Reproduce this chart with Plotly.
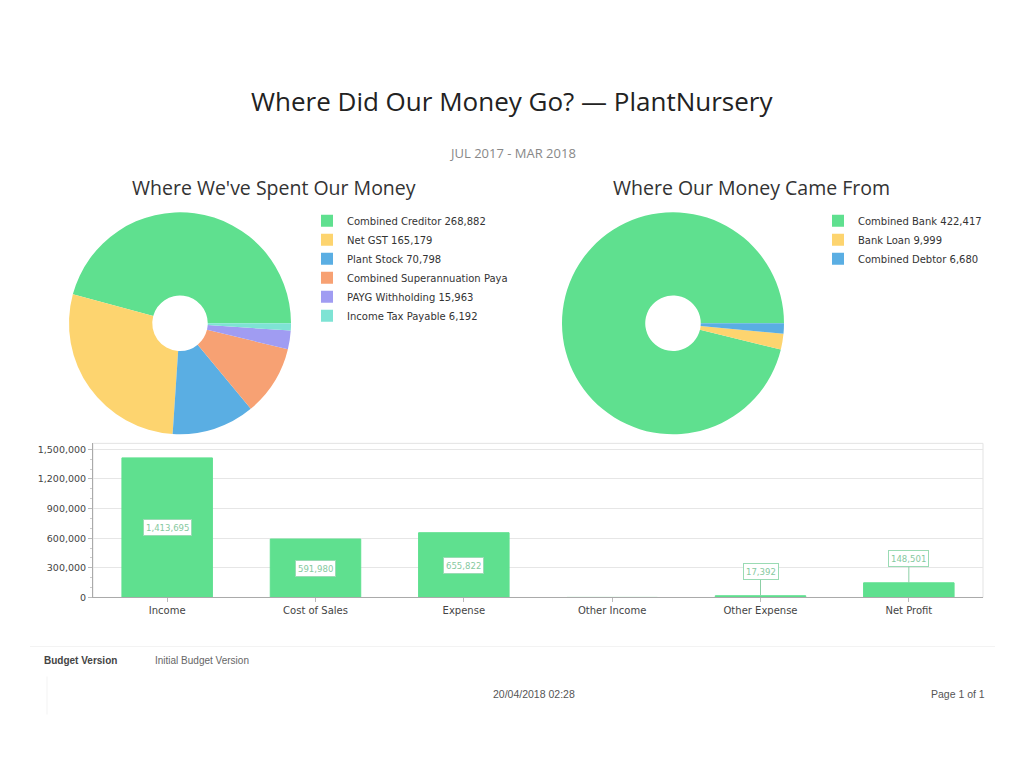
import plotly.graph_objects as go

# ---- data ----
spent_labels = ["Combined Creditor 268,882", "Net GST 165,179", "Plant Stock 70,798",
                "Combined Superannuation Paya", "PAYG Withholding 15,963", "Income Tax Payable 6,192"]
spent_values = [268882, 165179, 70798, 60000, 15963, 6192]
spent_colors = ["#5FE08F", "#FDD46F", "#5AAEE3", "#F7A173", "#A09CF2", "#7EE3D4"]

came_labels = ["Combined Bank 422,417", "Bank Loan 9,999", "Combined Debtor 6,680"]
came_values = [422417, 9999, 6680]
came_colors = ["#5FE08F", "#FDD46F", "#5AAEE3"]

bar_categories = ["Income", "Cost of Sales", "Expense", "Other Income", "Other Expense", "Net Profit"]
bar_values = [1413695, 591980, 655822, 0, 17392, 148501]
bar_label_inside = [True, True, True, None, False, False]
y_ticks = [0, 300000, 600000, 900000, 1200000, 1500000]
y_ticktext = ["0", "300,000", "600,000", "900,000", "1,200,000", "1,500,000"]

GREEN = "#5FE08F"
W, H = 1024, 770
H_EFF = 764.4


def px_x(x):
    return x / W


def px_y(y):
    return 1 - y / H_EFF


def start_rotation(values):
    # first slice begins at 3 o'clock and the slices run counter-clockwise
    return 90 - 360 * values[0] / sum(values)


fig = go.Figure()

fig.add_trace(go.Pie(
    labels=spent_labels, values=spent_values, hole=0.25, sort=False,
    direction="counterclockwise", rotation=start_rotation(spent_values),
    marker=dict(colors=spent_colors, line=dict(width=0)),
    textinfo="none", hoverinfo="label+percent",
    domain=dict(x=[px_x(69), px_x(291)], y=[px_y(434), px_y(212)]),
    legend="legend",
))

fig.add_trace(go.Pie(
    labels=came_labels, values=came_values, hole=0.25, sort=False,
    direction="counterclockwise", rotation=start_rotation(came_values),
    marker=dict(colors=came_colors, line=dict(width=0)),
    textinfo="none", hoverinfo="label+percent",
    domain=dict(x=[px_x(562), px_x(784)], y=[px_y(434), px_y(212)]),
    legend="legend2",
))

fig.add_trace(go.Bar(
    x=bar_categories, y=bar_values, width=0.61,
    marker=dict(color=GREEN, line=dict(color=GREEN, width=1)),
    showlegend=False, hoverinfo="x+y",
))

label_font = dict(family="DejaVu Sans Condensed, DejaVu Sans", size=9.5, color="#86C9A0")
annotations = []
for cat, val, inside in zip(bar_categories, bar_values, bar_label_inside):
    if inside is None:
        continue
    txt = f"{val:,}"
    if inside:
        annotations.append(dict(
            x=cat, y=val / 2, xref="x", yref="y", text=txt, showarrow=False,
            font=label_font, bgcolor="white", bordercolor="#9ADBB4",
            borderwidth=1, borderpad=2,
        ))
    else:
        annotations.append(dict(
            x=cat, y=val, xref="x", yref="y", text=txt, showarrow=True,
            arrowhead=0, arrowwidth=1, arrowcolor="#8CCFA6", ax=0, ay=-16,
            yanchor="bottom", font=label_font, bgcolor="white",
            bordercolor="#9ADBB4", borderwidth=1, borderpad=2,
        ))

# headings and footer texts
texts = [
    ("Where Did Our Money Go? \u2014 PlantNursery", 512, 101, 26, "#222", "Open Sans", "center"),
    ("JUL 2017 - MAR 2018", 512, 153, 13, "#888", "Open Sans", "center"),
    ("Where We've Spent Our Money", 274, 187, 19.5, "#333", "Open Sans", "center"),
    ("Where Our Money Came From", 751, 187, 19.5, "#333", "Open Sans", "center"),
    ("<b>Budget Version</b>", 42, 660, 10, "#444", "Liberation Sans", "left"),
    ("Initial Budget Version", 153, 660, 10, "#666", "Liberation Sans", "left"),
    ("20/04/2018 02:28", 534, 693, 10.5, "#555", "Liberation Sans", "center"),
    ("Page 1 of 1", 987, 693, 10.5, "#555", "Liberation Sans", "right"),
]
for t, x, y, size, color, fam, anchor in texts:
    annotations.append(dict(
        text=t, x=px_x(x), y=px_y(y), xref="paper", yref="paper",
        xanchor=anchor, yanchor="middle", showarrow=False,
        font=dict(size=size, color=color, family=fam),
    ))

shapes = [
    dict(type="line", xref="paper", yref="paper", x0=px_x(30), x1=px_x(995),
         y0=px_y(646), y1=px_y(646), line=dict(color="#F3F3F3", width=1)),
    dict(type="line", xref="paper", yref="paper", x0=px_x(47), x1=px_x(47),
         y0=px_y(676), y1=px_y(714), line=dict(color="#F3F3F3", width=1)),
    dict(type="rect", xref="x domain", yref="y domain", x0=0, x1=1, y0=0, y1=1,
         line=dict(color="#E3E3E3", width=1), layer="below"),
]

legend_font = dict(family="DejaVu Sans", size=10, color="#333")
fig.update_layout(
    width=W, height=H,
    margin=dict(l=0, r=0, t=0, b=0),
    paper_bgcolor="white", plot_bgcolor="white",
    font=dict(family="DejaVu Sans", color="#444"),
    legend=dict(x=px_x(307), y=px_y(206), xanchor="left", yanchor="top",
                font=legend_font, bgcolor="rgba(0,0,0,0)", itemwidth=30,
                tracegroupgap=0),
    legend2=dict(x=px_x(818), y=px_y(206), xanchor="left", yanchor="top",
                 font=legend_font, bgcolor="rgba(0,0,0,0)", itemwidth=30),
    xaxis=dict(domain=[px_x(93), px_x(983)], showline=True, linecolor="#AAA",
               ticks="outside", ticklen=4, tickcolor="#BBB",
               tickfont=dict(size=10, color="#444"), showgrid=False,
               minor=dict(ticks="outside", ticklen=3, tickcolor="#CCC")),
    yaxis=dict(domain=[px_y(597), px_y(443)], range=[0, 1561000],
               tickvals=y_ticks, ticktext=y_ticktext,
               showline=True, linecolor="#AAA", ticks="outside", ticklen=4,
               tickcolor="#BBB", tickfont=dict(size=9.5, color="#444"),
               gridcolor="#E6E6E6", zeroline=False,
               minor=dict(ticks="outside", ticklen=2, tickcolor="#CCC", dtick=100000)),
    annotations=annotations,
    shapes=shapes,
    bargap=0.39,
)

fig.write_html("out.html")
